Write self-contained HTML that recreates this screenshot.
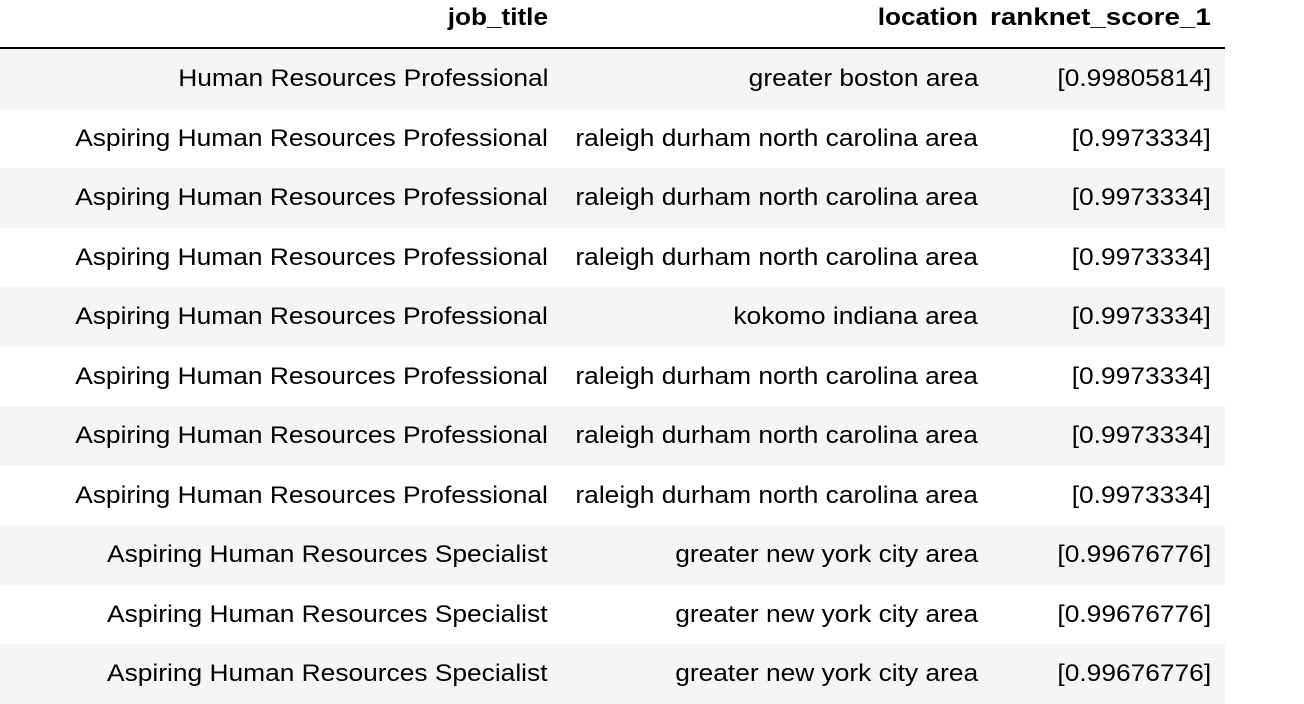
<!DOCTYPE html>
<html><head><meta charset="utf-8"><style>
body{margin:0;width:1304px;height:696px;overflow:hidden;background:#fff;font-family:"Liberation Sans",Arial,sans-serif;color:#000}
.row{position:absolute;left:0;width:1225px;height:59.5px}
.c{position:absolute;top:0;line-height:59.5px;font-size:24px;text-align:right;white-space:nowrap;transform:scaleX(1.097);transform-origin:right center}
.c1{right:677px}.c2{right:247px}.c3{right:14px}
.hdr .c{font-weight:bold;line-height:36px;transform:scaleX(1.09)}
.hdr .c3{transform:scaleX(1.157)}
.odd{background:#f5f5f5}
</style></head><body>
<div>
<div class="row hdr" style="top:0;height:47px;border-bottom:2px solid #000">
<div class="c c1">job_title</div>
<div class="c c2">location</div>
<div class="c c3">ranknet_score_1</div>
</div>
<div id="body"></div>
</div>
<script>
const titles=["Human Resources Professional","Aspiring Human Resources Professional","Aspiring Human Resources Professional","Aspiring Human Resources Professional","Aspiring Human Resources Professional","Aspiring Human Resources Professional","Aspiring Human Resources Professional","Aspiring Human Resources Professional","Aspiring Human Resources Specialist","Aspiring Human Resources Specialist","Aspiring Human Resources Specialist"];
const locations=["greater boston area","raleigh durham north carolina area","raleigh durham north carolina area","raleigh durham north carolina area","kokomo indiana area","raleigh durham north carolina area","raleigh durham north carolina area","raleigh durham north carolina area","greater new york city area","greater new york city area","greater new york city area"];
const scores=["[0.99805814]","[0.9973334]","[0.9973334]","[0.9973334]","[0.9973334]","[0.9973334]","[0.9973334]","[0.9973334]","[0.99676776]","[0.99676776]","[0.99676776]"];
const b=document.getElementById('body');
titles.forEach((t,i)=>{
 const r=document.createElement('div');
 r.className='row'+(i%2==0?' odd':'');
 r.style.top=(49+i*59.5)+'px';
 
 
 [[t,'c1','job-title-cell'],[locations[i],'c2','location-cell'],[scores[i],'c3','score-cell']].forEach(([txt,cl,n])=>{
  const d=document.createElement('div');
  d.className='c '+cl;d.textContent=txt;
  
  
  r.appendChild(d);
 });
 b.appendChild(r);
});
</script>
</body></html>
